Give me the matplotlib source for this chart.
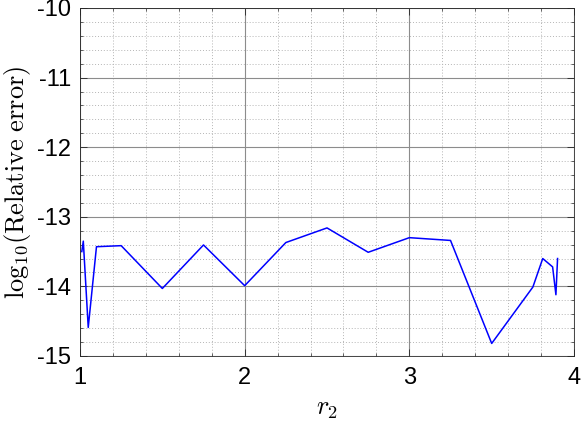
import numpy as np
import matplotlib
matplotlib.use("Agg")
import matplotlib.pyplot as plt
from matplotlib.ticker import MultipleLocator

# valeurs
r2 = [1.011, 1.02, 1.05, 1.10, 1.25, 1.50, 1.75, 2.00, 2.25, 2.50, 2.75,
      3.00, 3.25, 3.50, 3.75, 3.81, 3.87, 3.89, 3.90]
log_err = [-13.50, -13.35, -14.59, -13.43, -13.415, -14.03, -13.405, -13.99,
           -13.37, -13.16, -13.51, -13.30, -13.34, -14.82, -14.01, -13.60,
           -13.72, -14.12, -13.60]

xticks = [1, 2, 3, 4]
yticks = [-15, -14, -13, -12, -11, -10]

plt.rcParams["mathtext.fontset"] = "cm"

fig = plt.figure(figsize=(5.81, 4.25), dpi=100)
ax = fig.add_axes([0.1377, 0.1624, 0.8503, 0.8188])

ax.plot(r2, log_err, color=(0, 0, 1), linewidth=1.1)

ax.set_xlim(1, 4)
ax.set_ylim(-15, -10)
ax.set_xticks(xticks)
ax.set_yticks(yticks)
ax.set_xticklabels([str(t) for t in xticks], family="Liberation Sans", fontsize=17)
ax.set_yticklabels([str(t) for t in yticks], family="Liberation Sans", fontsize=17)
ax.xaxis.set_minor_locator(MultipleLocator(0.2))
ax.yaxis.set_minor_locator(MultipleLocator(0.2))

ax.grid(which="major", color="#8c8c8c", linewidth=0.8, linestyle="-")
ax.grid(which="minor", color="#b5b5b5", linewidth=0.7, linestyle=(0, (1, 2)))
ax.set_axisbelow(True)

ax.tick_params(which="both", direction="in", top=True, right=True, color="#262626")
ax.tick_params(which="major", length=5, width=0.6)
ax.tick_params(which="minor", length=2.5, width=0.5)
ax.tick_params(axis="x", which="major", pad=8)
ax.tick_params(axis="y", which="major", pad=6.5)
for s in ax.spines.values():
    s.set_color("#262626")
    s.set_linewidth(0.6)

ax.set_xlabel(r"$r_2$", fontsize=19, labelpad=4)
ax.set_ylabel(r"$\mathrm{log}_{10}(\mathrm{Relative\ error})$", fontsize=19, labelpad=3)

fig.savefig("out.png", dpi=100)
